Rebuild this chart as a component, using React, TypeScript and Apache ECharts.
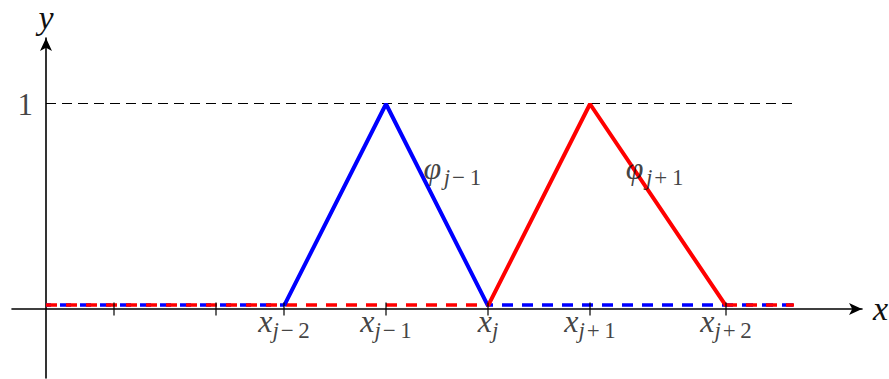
import React, { useEffect, useRef } from "react";
import * as echarts from "echarts";

// Node positions on the x axis (data units) and their subscript labels
const xNodes = [2, 5, 7, 10, 13, 16, 20];
const nodeSubs = ["", "", "j−2", "j−1", "j", "j+1", "j+2"];

// Hat functions
const blueX = [7, 10, 13];
const blueY = [0.015, 1, 0.015];
const redX = [13, 16, 20];
const redY = [0.015, 1, 0.015];

// Dashed zero parts (x start, x end) and their level
const zeroLevel = 0.02;
const blueZeroSegments = [
  [0, 7],
  [13, 22],
];
const redZeroSegments = [
  [0, 13],
  [20, 22],
];

// Dashed reference line at y = 1
const oneLineX = [0, 22];
const oneLevel = 1.0025;
const yTickLabels = [{ value: 1, text: "1" }];

// Function labels
const phiLabels = [
  { sign: "−1", x: 11.1, y: 0.69 },
  { sign: "+1", x: 17.05, y: 0.69 },
];

const FONT = "'Liberation Serif', serif";
const TXT = "#111";
const HS = "\u200A";
const TS = "\u2009";

function subText(s: string) {
  const j = s.charAt(0);
  const rest = s.slice(1);
  if (!rest) return `{ji|${j}}`;
  const op = rest.charAt(0);
  const num = rest.slice(1);
  return `{ji|${j}}{nu|${HS}${op}${TS}${num}}`;
}

export default function App() {
  const ref = useRef<HTMLDivElement>(null);
  useEffect(() => {
    if (!ref.current) return;
    const chart = echarts.init(ref.current, null, { renderer: "svg" });

    const rich = {
      xi: { fontFamily: FONT, fontStyle: "italic", fontSize: 32, color: TXT, lineHeight: 30, verticalAlign: "middle" },
      pi: { fontFamily: FONT, fontStyle: "italic", fontSize: 32, color: TXT, lineHeight: 30, verticalAlign: "middle" },
      ji: { fontFamily: FONT, fontStyle: "italic", fontSize: 23, color: TXT, lineHeight: 42, verticalAlign: "bottom" },
      nu: { fontFamily: FONT, fontSize: 23, color: TXT, lineHeight: 42, verticalAlign: "bottom" },
    };

    const line = (data: number[][], color: string, width: number, type: any, z: number, offset = 0) => ({
      type: "line",
      data,
      symbol: "none",
      silent: true,
      z,
      lineStyle: { color, width, type, dashOffset: offset },
    });

    const series: any[] = [];
    series.push(line(oneLineX.map((x) => [x, oneLevel]), "#000", 1.2, [10, 6], 2));
    blueZeroSegments.forEach((s) =>
      series.push(line(s.map((x) => [x, zeroLevel]), "#0000ff", 3.5, [11, 9], 3, 6))
    );
    redZeroSegments.forEach((s) =>
      series.push(line(s.map((x) => [x, zeroLevel]), "#ff0000", 3.5, [11, 9], 4))
    );
    series.push(line(blueX.map((x, i) => [x, blueY[i]]), "#0000ff", 4, "solid", 5));
    series.push(line(redX.map((x, i) => [x, redY[i]]), "#ff0000", 4, "solid", 6));
    // ticks crossing the x axis, with their labels
    series.push({
      type: "scatter",
      data: xNodes.map((x, i) => ({ value: [x, 0], name: nodeSubs[i] })),
      symbol: "rect",
      symbolSize: [1.5, 13],
      itemStyle: { color: "#000" },
      silent: true,
      z: 7,
      label: {
        show: true,
        position: "bottom",
        distance: -15,
        formatter: (p: any) => (p.name ? `{xi|x}${subText(p.name)}` : ""),
        rich,
      },
    });
    // y tick label "1"
    series.push({
      type: "scatter",
      data: yTickLabels.map((t) => ({ value: [0, t.value], name: t.text })),
      symbolSize: 0,
      silent: true,
      z: 8,
      label: {
        show: true,
        position: "left",
        distance: 13,
        formatter: (p: any) => p.name,
        fontFamily: FONT,
        fontSize: 31,
        color: TXT,
      },
    });
    // phi labels
    series.push({
      type: "scatter",
      data: phiLabels.map((p) => ({ value: [p.x, p.y], name: p.sign })),
      symbolSize: 0,
      silent: true,
      z: 8,
      label: {
        show: true,
        position: "right",
        distance: 0,
        formatter: (p: any) => `{pi|φ${HS}}${subText("j" + p.name)}`,
        rich,
      },
    });

    const nameStyle = { fontFamily: FONT, fontStyle: "italic", fontSize: 34, color: TXT };
    const axisLine = {
      onZero: true,
      symbol: ["none", "arrow"],
      symbolSize: [9, 13],
      lineStyle: { color: "#000", width: 1.6 },
    };

    chart.setOption({
      animation: false,
      grid: { left: 12, right: 27, top: 38, bottom: 1, containLabel: false, outerBoundsMode: "none" },
      xAxis: {
        type: "value",
        min: -1,
        max: 24,
        name: "x",
        nameLocation: "end",
        nameGap: 11,
        nameTextStyle: nameStyle,
        axisLine,
        axisTick: { show: false },
        splitLine: { show: false },
        axisLabel: { show: false },
      },
      yAxis: {
        type: "value",
        min: -0.3366,
        max: 1.322,
        name: "y",
        nameLocation: "end",
        nameGap: 4,
        nameTextStyle: nameStyle,
        axisLine,
        axisTick: { show: false },
        splitLine: { show: false },
        axisLabel: { show: false },
      },
      series,
    });
    return () => chart.dispose();
  }, []);
  return (
    <div
      ref={ref}
      style={{ position: "fixed", left: 0, top: 0, width: 889, height: 379, background: "#fff" }}
    />
  );
}
